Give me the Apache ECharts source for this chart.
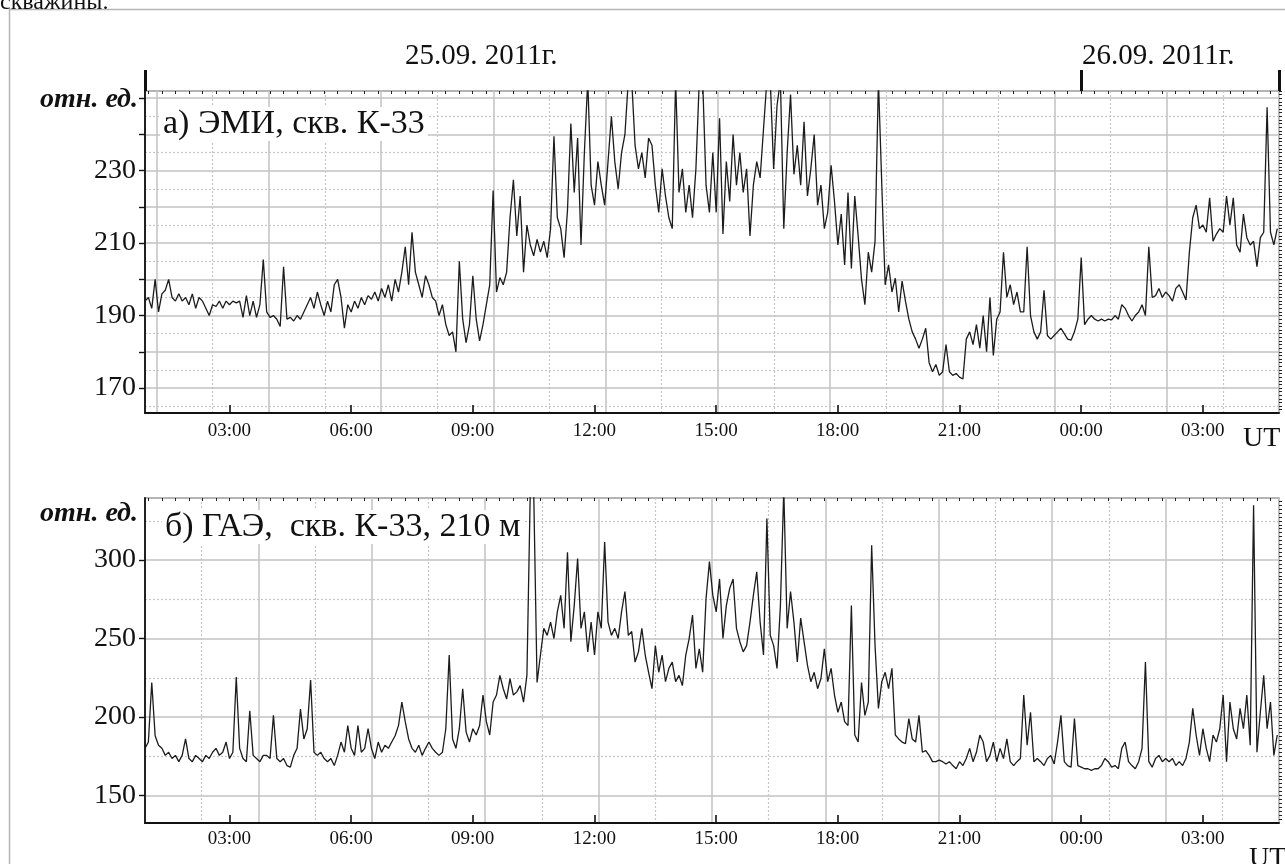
<!DOCTYPE html>
<html>
<head>
<meta charset="utf-8">
<script src="https://cdn.jsdelivr.net/npm/echarts@6/dist/echarts.min.js"></script>
<style>html,body{margin:0;padding:0;background:#fff;}#c{width:1285px;height:864px;}</style>
</head>
<body>
<div id="c"></div>
<script>
// ---- time axis (hours from 25.09.2011 00:00 UT) ----
const X_MIN = 0.92, X_MAX = 28.88;
const T0 = 0.92, STEP = 1 / 12;           // samples every 5 minutes
const TIME_TICKS = [3, 6, 9, 12, 15, 18, 21, 24, 27];
const DATE_TICKS = [0.935, 24, 28.875];

// ---- y tick labels ----
const EMI_LABELS = [170, 190, 210, 230];
const GAE_LABELS = [150, 200, 250, 300];

// ---- а) ЭМИ, скв. К-33 (отн. ед.) ----
const EMI = [
194,195,192,200,191,196,197,200,195,194,196,194,
195,193,196,192,195,194,192,190,193,192.5,194,192,
194,193,194,193.5,194,189.5,195.5,190,194,189.5,193,205.5,
191,189.5,190,189,187,203.5,189,189.5,188.5,190,189,191,
193,195,192,196.5,193,190,194,191,198.5,200,195,186.5,
193,191,194,192,195,193,195.5,194.5,196.5,194,197.5,195,
198.5,194,200,196.5,202,209,198.5,213,202,198.5,195,201,
198.5,195,194,190,193,187.5,184.5,185.5,180,205,189,182.5,
187.5,201,189,183,187.5,193,198.5,224.5,196.5,200.5,198.5,202,
217,227.5,212,223,202,215,209.5,206.5,211,207.5,210.5,206,
214,239.5,217,214,206,219,243,224,239,209.5,235,255,
226,220.5,232.5,226,220.5,232.5,245,232.5,225,235,240,255,
255,237,230.5,235,228,239,237,226,218.5,230.5,223,217,
214,255,224,230.5,218.5,226,217,230.5,255,255,226,218.5,
235,218.5,244.5,212.5,232.5,221.5,240,226,235,224,230.5,212,
226,232.5,228,241.5,255,255,230.5,248,255,214,235,251,
229,237,226,243.5,223,230.5,240,220.5,226,214,218.5,231.5,
221.5,209.5,218,204,224,203,223,212,200,193,207.5,202,
210.5,255,226,198.5,204,196.5,200.3,191,199.5,194,189,185.5,
183.5,181,183.5,186.5,177,174.5,176.5,173.5,174.5,182,174.5,173.5,
174,173,172.5,183.5,185.5,182,187.5,181,190,180,195,179,
189,191,207.5,195,198.5,193,196.5,191,191,209,190,185.5,
183.5,185.5,197,184.5,183.5,184.5,185.5,186.5,185,183.5,183.2,185.5,
189,206,187.5,189,190,189,188.5,189,188.5,189,188.8,190,
189,193,192,190,188.5,190,191,193,190,209,195,195.5,
197.5,195,196.5,195.5,194,197.5,198.5,196.5,194.3,207.5,217,220.5,
214,215,213,222.5,210.5,212.5,214,213,223,215,222.5,209.5,
207.5,218,211.5,209.5,210.5,203.5,211.5,213,247.5,213,209.5,214
];

// ---- б) ГАЭ, скв. К-33, 210 м (отн. ед.) ----
const GAE = [
180,184,222,188,182,180,175.5,177.5,173.5,175.5,171.5,175.5,
186,173.5,171.5,175.5,173.5,171.5,175.5,173.5,177.5,180,175.5,177.5,
184,173.5,177.5,225.5,180,173.5,171.5,204,175.5,173.5,171.5,175.5,
175.5,173.5,201,173.5,171.5,173.5,169,168,175.5,180,205,186,
192.5,223.5,177.5,175.5,177.5,173.5,171.5,173.5,169,175.5,184,177.5,
194.5,180,175.5,194.5,177.5,180,192.5,180,173.5,184,177.5,182,
180,184,188,194.5,209.5,197,186,180,177.5,182,175.5,180,
184,180,177.5,175.5,177.5,192.5,239.5,186,180,192.5,218,190.5,
184,192.5,188.5,194.5,214,197,188.5,209.5,214,226.5,218,211.5,
224.5,214,216,220,209.5,226.5,345,345,222,239.5,256.5,252,
260.5,250,267,277.5,256.5,305,248,271,301,256.5,267,241.5,
260.5,239.5,267,256.5,311.5,260.5,252,256.5,250,267,280,252,
254.5,235,241.5,256.5,239.5,228.5,218,245.5,228.5,239.5,222.5,231,
235,222.5,226.5,220,239.5,250,265,231,243.5,228.5,275.5,299,
277.5,267,288,250,271,282,288,256.5,248,241.5,245.5,260.5,
277.5,292.5,260.5,239.5,326.5,252,245.5,231,271,345,256.5,280,
260.5,235,263,248,233,222.5,228.5,218,224.5,243.5,222.5,231,
214,203,209.5,197,194.5,271,188.5,184,222,201,209.5,309.5,
245.5,205.5,222.5,228.5,218,231,188.5,186,184,183,199,186,
184,201,177.5,178.5,175.5,171.5,171.5,172.5,171.5,170,171.5,169,
167,171.5,169,173.5,180,171.5,177.5,188.5,184,171.5,175.5,184,
171.5,180,173.5,186,171.5,169,171.5,173.5,214,182,203,171.5,
173.5,171.5,169,173.5,175.5,170,184,201,171.5,169,168,199,
169,168,167,167,166,167,167,169,173.5,171.5,168,169,
167,180,184,171.5,169,167,171.5,180,235,171.5,168,173.5,
175.5,171.5,173.5,171.5,173.5,169,171.5,169,173.5,184,205.5,188.5,
175.5,192.5,180,171.5,188.5,184,192.5,214,171.5,209.5,192.5,186,
205.5,192.5,214,182,335,177.5,203,226.5,192.5,209.5,175.5,188.5
];

function steps(a, b, s) { const r = []; for (let v = a; v <= b + 1e-9; v += s) r.push(+v.toFixed(4)); return r; }
const toPairs = arr => arr.map((v, i) => [T0 + i * STEP, v]);
const hhmm = v => String(Math.round(v) % 24).padStart(2, '0') + ':00';

const SERIF = '"Liberation Serif", "Times New Roman", serif';
const GRID_SOLID = { color: '#c2c2c2', width: 1.5, type: 'solid' };
const GRID_DOT = { color: '#c6c6c6', width: 1.2, type: [2, 2] };

const PANELS = [
  { top: 91, height: 322, yMin: 163.1, yMax: 252, labels: EMI_LABELS,
    major: steps(170, 250, 10), minorGrid: steps(165, 245, 10), fine: steps(164, 252, 1),
    vLeft: 156.5, vMax: 1122.5, vInt: 112.25, labelMargin: 9 },
  { top: 498, height: 325, yMin: 132.4, yMax: 339.6, labels: GAE_LABELS,
    major: steps(150, 300, 50), minorGrid: steps(175, 325, 50), fine: steps(135, 337.5, 2.5),
    vLeft: 145, vMax: 1134, vInt: 113.4, labelMargin: 7 }
];

const grid = [], xAxis = [], yAxis = [], series = [];
PANELS.forEach((p, k) => {
  const gData = grid.length;
  grid.push({ left: 145, right: 6, top: p.top, height: p.height, show: true,
              borderColor: '#9c9c9c', borderWidth: 1.5, backgroundColor: 'transparent' });
  const gV = grid.length;
  grid.push({ left: p.vLeft, right: 6, top: p.top, height: p.height });

  // main time axis
  const xMain = xAxis.length;
  xAxis.push({ type: 'value', gridIndex: gData, min: X_MIN, max: X_MAX,
    axisLine: { show: true, lineStyle: { color: '#111', width: 1.8 } },
    axisTick: { show: true, inside: true, length: 8, customValues: TIME_TICKS, lineStyle: { color: '#111', width: 1.6 } },
    axisLabel: { show: true, customValues: TIME_TICKS, formatter: hhmm, margin: p.labelMargin,
                 color: '#111', fontFamily: SERIF, fontSize: 19 },
    splitLine: { show: false } });
  // fine 20-minute ticks
  xAxis.push({ type: 'value', gridIndex: gData, min: X_MIN, max: X_MAX,
    axisLine: { show: false },
    axisTick: { show: true, inside: true, length: 3, customValues: steps(1, 28.67, 1 / 3), lineStyle: { color: '#222', width: 1 } },
    axisLabel: { show: false }, splitLine: { show: false } });
  if (k === 0) {
    // date separators above the upper panel
    xAxis.push({ type: 'value', gridIndex: gData, position: 'top', min: X_MIN, max: X_MAX,
      axisLine: { show: false },
      axisTick: { show: true, inside: false, length: 21, customValues: DATE_TICKS, lineStyle: { color: '#111', width: 3 } },
      axisLabel: { show: false }, splitLine: { show: false } });
  }
  // vertical grid lines of the original plotting program
  xAxis.push({ type: 'value', gridIndex: gV, min: 0, max: p.vMax, interval: p.vInt,
    axisLine: { show: false }, axisTick: { show: false }, axisLabel: { show: false },
    splitLine: { show: true, lineStyle: GRID_SOLID },
    minorTick: { show: false, splitNumber: 2 },
    minorSplitLine: { show: true, lineStyle: GRID_DOT } });

  const yMain = yAxis.length;
  yAxis.push({ type: 'value', gridIndex: gData, min: p.yMin, max: p.yMax,
    axisLine: { show: true, lineStyle: { color: '#111', width: 1.8 } },
    axisTick: { show: true, inside: false, length: 6, customValues: p.major, lineStyle: { color: '#111', width: 1.4 } },
    axisLabel: { show: true, customValues: p.labels, margin: 9, color: '#111', fontFamily: SERIF, fontSize: 28 },
    splitLine: { show: true, lineStyle: GRID_SOLID } });
  yAxis.push({ type: 'value', gridIndex: gData, min: p.yMin, max: p.yMax,
    axisLine: { show: false },
    axisTick: { show: false, customValues: p.minorGrid },
    axisLabel: { show: false },
    splitLine: { show: true, lineStyle: GRID_DOT } });
  yAxis.push({ type: 'value', gridIndex: gData, min: p.yMin, max: p.yMax,
    axisLine: { show: false },
    axisTick: { show: true, inside: false, length: 3, customValues: p.fine, lineStyle: { color: '#222', width: 1 } },
    axisLabel: { show: false }, splitLine: { show: false } });
  yAxis.push({ type: 'value', gridIndex: gV, min: 0, max: 1, show: false });

  series.push({ type: 'line', xAxisIndex: xMain, yAxisIndex: yMain,
    data: toPairs(k === 0 ? EMI : GAE), showSymbol: false, symbol: 'none', sampling: null,
    lineStyle: { color: '#1c1c1c', width: 1.3 }, z: 3, animation: false });
});

const txt = (text, x, y, font, align, extra) => Object.assign({
  type: 'text', z: 10, silent: true,
  style: Object.assign({ text, x, y, font, fill: '#111', textAlign: align || 'left', textVerticalAlign: 'middle' }, extra || {})
});

const graphic = [
  { type: 'rect', z: 1, silent: true, shape: { x: 9.5, y: 9.5, width: 1400, height: 1000 },
    style: { fill: 'none', stroke: '#b5b5b5', lineWidth: 1.5 } },
  txt('скважины.', 0, 3, '24px ' + SERIF),
  txt('25.09. 2011г.', 405, 56, '29px ' + SERIF),
  txt('26.09. 2011г.', 1082, 56, '29px ' + SERIF),
  txt('отн. ед.', 138, 100, 'italic bold 28px ' + SERIF, 'right'),
  txt('отн. ед.', 138, 514, 'italic bold 28px ' + SERIF, 'right'),
  txt('а) ЭМИ, скв. К-33', 160, 124, '34px ' + SERIF, 'left', { backgroundColor: '#fff', padding: [0, 3] }),
  txt('б) ГАЭ,  скв. К-33, 210 м', 162, 527, '34px ' + SERIF, 'left', { backgroundColor: '#fff', padding: [0, 3] }),
  txt('UT', 1243, 439, '28px ' + SERIF),
  txt('UT', 1249, 859, '28px ' + SERIF)
];

const chart = echarts.init(document.getElementById('c'), null, { renderer: 'canvas' });
chart.setOption({ animation: false, backgroundColor: '#fff', grid, xAxis, yAxis, series, graphic });
</script>
</body>
</html>
